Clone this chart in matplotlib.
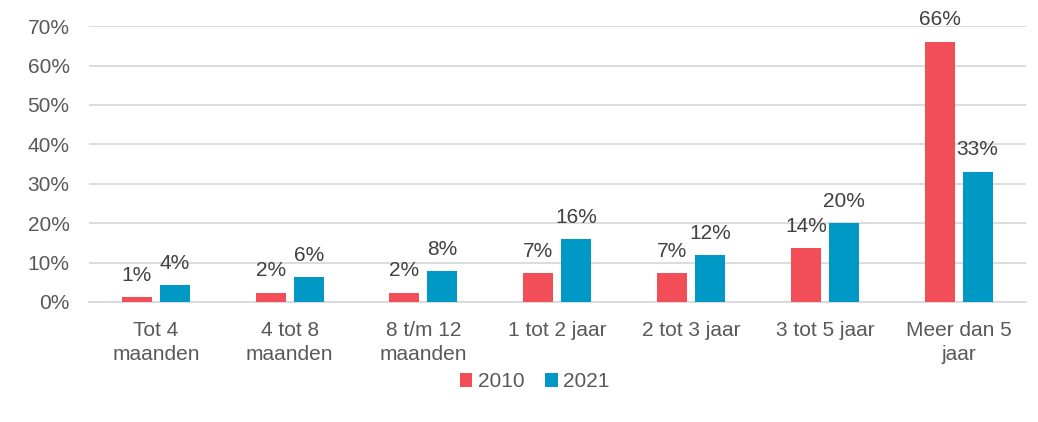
import matplotlib
matplotlib.use("Agg")
import matplotlib.pyplot as plt
import numpy as np

categories = ["Tot 4\nmaanden", "4 tot 8\nmaanden", "8 t/m 12\nmaanden", "1 tot 2 jaar",
              "2 tot 3 jaar", "3 tot 5 jaar", "Meer dan 5\njaar"]
vals_2010 = [1.2, 2.4, 2.3, 7.3, 7.3, 13.6, 66.0]
vals_2021 = [4.3, 6.3, 7.8, 15.9, 11.8, 20.0, 33.0]
labels_2010 = ["1%", "2%", "2%", "7%", "7%", "14%", "66%"]
labels_2021 = ["4%", "6%", "8%", "16%", "12%", "20%", "33%"]

RED = "#F24E58"
BLUE = "#0099C5"
TXT = "#595959"

plt.rcParams['font.family'] = ['Liberation Sans', 'DejaVu Sans']

fig = plt.figure(figsize=(10.38, 4.22), dpi=100)
ax = fig.add_axes([0.0857, 0.2844, 0.9023, 0.6536])

x = np.arange(len(categories))
w = 0.224
off = 0.142
b1 = ax.bar(x - off, vals_2010, w, color=RED, label="2010", zorder=3)
b2 = ax.bar(x + off, vals_2021, w, color=BLUE, label="2021", zorder=3)

for bars, labs in ((b1, labels_2010), (b2, labels_2021)):
    for rect, lab in zip(bars, labs):
        ax.annotate(lab, (rect.get_x() + rect.get_width() / 2, rect.get_height()),
                    xytext=(0, 9), textcoords="offset points", ha="center", va="bottom",
                    fontsize=15, color="#404040", zorder=4)

ax.set_xlim(-0.5, len(categories) - 0.5)
ax.set_ylim(0, 70)
ax.set_yticks(range(0, 71, 10))
ax.set_yticklabels([f"{v}%" for v in range(0, 71, 10)], fontsize=15, color=TXT)
ax.set_xticks(x)
ax.set_xticklabels(categories, fontsize=15, color=TXT, linespacing=1.3)
ax.tick_params(axis="both", length=0)
ax.tick_params(axis="x", pad=14)
ax.tick_params(axis="y", pad=14)
ax.yaxis.grid(True, color="#D9D9D9", linewidth=1.3, zorder=0)
for s in ["top", "right", "left"]:
    ax.spines[s].set_visible(False)
ax.spines["bottom"].set_color("#D9D9D9")
ax.spines["bottom"].set_linewidth(1.3)

fig.legend(handles=[b1, b2], loc="center", bbox_to_anchor=(0.515, 0.095), ncol=2,
           frameon=False, fontsize=15, labelcolor=TXT, handlelength=0.6, handleheight=0.6,
           handletextpad=0.25, columnspacing=1.0)

fig.savefig("out.png", dpi=100, facecolor="white")
